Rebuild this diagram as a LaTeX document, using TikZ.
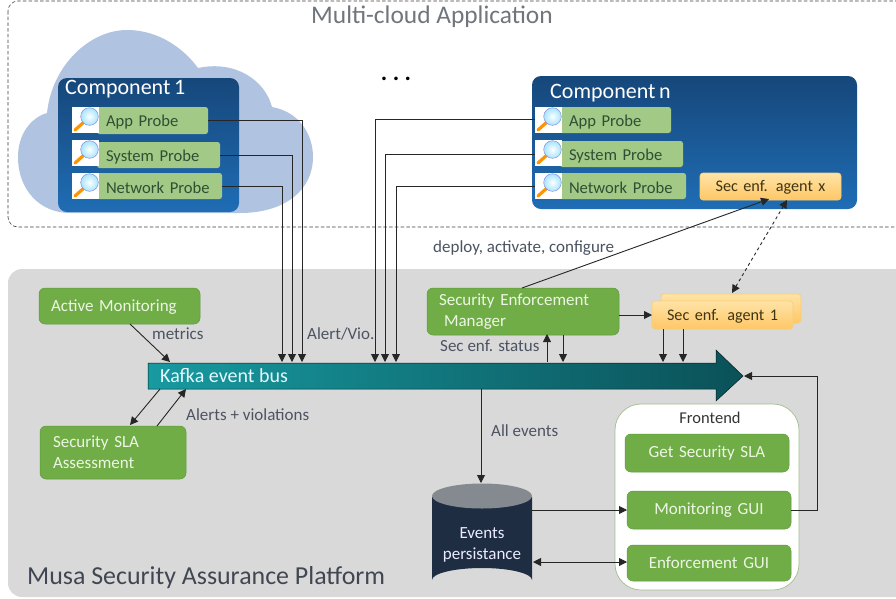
\documentclass[tikz,border=0pt]{standalone}
\usepackage{fontspec}
\setmainfont{Carlito}
\usetikzlibrary{arrows.meta,calc}
\definecolor{cloudc}{HTML}{B0C4E2}
\definecolor{compt}{HTML}{16477A}
\definecolor{compb}{HTML}{1F6DB5}
\definecolor{probeg}{HTML}{A3C986}
\definecolor{probet}{HTML}{2F4F35}
\definecolor{platg}{HTML}{D9D9D9}
\definecolor{boxg}{HTML}{70AD47}
\definecolor{boxline}{HTML}{5F9A3C}
\definecolor{boxtxt}{HTML}{EDF6E4}
\definecolor{agentt}{HTML}{FFE3A6}
\definecolor{agentb}{HTML}{FFC766}
\definecolor{agentl}{HTML}{F4CF78}
\definecolor{agenttx}{HTML}{3F3414}
\definecolor{labelc}{HTML}{4C5361}
\definecolor{titlec}{HTML}{70767C}
\definecolor{dbc}{HTML}{1E2D42}
\definecolor{dbtop}{HTML}{858A90}
\definecolor{busl}{HTML}{179AA0}
\definecolor{busr}{HTML}{0B5158}
\definecolor{frontl}{HTML}{A3BF8D}
\tikzset{
  conn/.style={draw=black!85,line width=0.9pt,-{Triangle[length=8pt,width=8pt]}},
  connb/.style={draw=black!85,line width=0.9pt,{Triangle[length=8pt,width=8pt]}-{Triangle[length=8pt,width=8pt]}},
  comp/.style={rounded corners=9pt,top color=compt,bottom color=compb,draw=none},
  probe/.style={rounded corners=2.5pt,fill=probeg,draw=none,text=probet,font=\fontsize{16.6}{18}\selectfont,align=left},
  greenbox/.style={rounded corners=6pt,fill=boxg,draw=boxline,line width=0.5pt,text=boxtxt,font=\fontsize{17}{21}\selectfont},
  agent/.style={rounded corners=3pt,top color=agentt,bottom color=agentb,draw=agentl,line width=0.6pt,text=agenttx,font=\fontsize{16.2}{18}\selectfont,align=center},
  lab/.style={text=labelc,font=\fontsize{17}{19}\selectfont,inner sep=0pt},
}
% name, x1,y1,x2,y2, style, text
\newcommand\pxbox[7]{%
  \pgfmathsetmacro{\pxw}{#4-#2}\pgfmathsetmacro{\pxh}{#5-#3}%
  \pgfmathsetmacro{\pxcx}{(#2+#4)/2}\pgfmathsetmacro{\pxcy}{(#3+#5)/2}%
  \node[inner sep=0pt,outer sep=0pt,text width=\pxw pt,minimum height=\pxh pt,#6] (#1) at (\pxcx,\pxcy) {#7};}
\newcommand\pxlow[3]{\hspace*{#1}\raisebox{-#2}[\height][\depth]{#3}}
% magnifier icon
\newcommand\pxicon[2]{%
  \fill[white] (#1,#2) rectangle ++(27,26);
  \draw[line width=3.2pt,orange!85!yellow,line cap=round] ($(#1,#2)+(3,23)$) -- ($(#1,#2)+(12,15)$);
  \shade[inner color=white,outer color=blue!30!cyan!35,draw=black!35!blue!45,line width=0.5pt] ($(#1,#2)+(17.5,9.5)$) circle (8.8pt);}
\begin{document}
\begin{tikzpicture}[x=1pt,y=-1pt]
\useasboundingbox (0,0) rectangle (896,598);
\clip (0,0) rectangle (896,598);
\fill[white] (0,0) rectangle (896,598);
% containers
\draw[dash pattern=on 3.5pt off 2.2pt,draw=black!75,line width=0.6pt,rounded corners=10pt] (8,1) rectangle (920,227);
\fill[platg,rounded corners=14pt] (8,269) rectangle (930,597);
\node[text=titlec,font=\fontsize{25.4}{27}\selectfont,inner sep=0pt] (title) at (432,17) {Multi-cloud Application};
\node[font=\bfseries\fontsize{24}{24}\selectfont,inner sep=0pt] (dots) at (396,79) {.\hspace{5.5pt}.\hspace{5.5pt}.};
% cloud
\fill[cloudc] (47,113) .. controls (52,65) and (90,30) .. (127,30)
  .. controls (160,30) and (185,50) .. (198,68)
  .. controls (235,60) and (265,80) .. (272,107)
  .. controls (300,112) and (313,135) .. (313,157)
  .. controls (313,190) and (285,213) .. (240,213)
  -- (70,213)
  .. controls (40,213) and (18,190) .. (18,157)
  .. controls (18,135) and (30,118) .. (47,113) -- cycle;
% components
\pxbox{comp1}{58}{78}{239}{212}{comp}{}
\pxbox{compn}{532}{76}{857}{209}{comp}{}
\node[text=white,font=\fontsize{22}{24}\selectfont,inner sep=0pt,anchor=west] (comp1t) at (65,89) {Component\,1};
\node[text=white,font=\fontsize{22}{24}\selectfont,inner sep=0pt,anchor=west] (compnt) at (550,93) {Component\,n};
% probes
\pxbox{app1}{97}{107}{208}{134}{probe}{\pxlow{9pt}{2pt}{App Probe}}
\pxbox{sys1}{97}{142}{220}{168}{probe}{\pxlow{9pt}{2pt}{System Probe}}
\pxbox{net1}{97}{173}{222}{199}{probe}{\pxlow{9pt}{2pt}{Network Probe}}
\pxicon{72}{107}\pxicon{72}{140}\pxicon{72}{173}
\pxbox{appn}{560}{107}{671}{133}{probe}{\pxlow{9pt}{2pt}{App Probe}}
\pxbox{sysn}{560}{141}{683}{167}{probe}{\pxlow{9pt}{2pt}{System Probe}}
\pxbox{netn}{560}{173}{686}{199}{probe}{\pxlow{9pt}{2pt}{Network Probe}}
\pxicon{535}{107}\pxicon{535}{140}\pxicon{535}{173}
\pxbox{agentx}{700}{173}{841}{200}{agent}{\pxlow{0pt}{1pt}{Sec enf. agent x}}
% bus
\path[left color=busl,right color=busr,draw=black!60!busr,line width=0.5pt]
  (148,363) -- (716,363) -- (716,350) -- (743,376) -- (716,401) -- (716,389) -- (148,389) -- cycle;
\node[text=white!90!cyan,font=\fontsize{20}{22}\selectfont,inner sep=0pt,anchor=west] (bus) at (160,376) {Kafka event bus};
% green boxes
\pxbox{active}{39}{288}{200}{324}{greenbox,align=left}{\pxlow{12pt}{1pt}{Active Monitoring}}
\pxbox{sla}{40}{426}{186}{479}{greenbox,align=left}{\hspace*{13pt}Security SLA\\\hspace*{13pt}Assessment}
\pxbox{sem}{427}{288}{619}{335}{greenbox,align=left}{\hspace*{12pt}Security Enforcement\\\hspace*{17pt}Manager}
% agent 1
\pxbox{agentb}{661}{294}{801}{323}{agent}{}
\pxbox{agenta}{652}{301}{793}{329}{agent}{\pxlow{0pt}{1pt}{Sec enf. agent 1}}
% database
\path[fill=dbc] (432,497) -- (432,580) arc[start angle=180,end angle=360,x radius=50,y radius=12] -- (532,497) -- cycle;
\fill[dbtop] (482,496) ellipse (50 and 12.5);
\node[text=white!92!blue,font=\fontsize{17}{21}\selectfont,align=center,inner sep=0pt] (db) at (482,545) {Events\\persistance};
\coordinate (dbtopc) at (481,483);
\coordinate (dbr1) at (532,510);
\coordinate (dbr2) at (533,562);
% frontend
\pxbox{front}{615}{404}{799}{590}{rounded corners=26pt,fill=white,draw=frontl,line width=0.7pt}{}
\node[text=black!80,font=\fontsize{16.5}{18}\selectfont,inner sep=0pt] (frontt) at (710,418) {Frontend};
\pxbox{getsla}{625}{434}{789}{472}{greenbox,align=center}{Get Security SLA}
\pxbox{mongui}{627}{491}{791}{529}{greenbox,align=center}{Monitoring GUI}
\pxbox{enfgui}{627}{545}{791}{581}{greenbox,align=center}{Enforcement GUI}
% coordinates on bus
\foreach \n/\x in {a/282,b/292,c/302,d/375,e/385,f/396,g/563,h/663,i/683}{\coordinate (bus\n) at (\x,362);}
\coordinate (bustip) at (744,376);
\coordinate (busm) at (170,362);
\coordinate (bussla) at (160,389);
\coordinate (busal) at (186,389);
\coordinate (busst) at (547,362);
\coordinate (busall) at (481,389);
\coordinate (turn) at (817,510);
% connectors
\draw[conn] (app1.east) -| (busc);
\draw[conn] (sys1.east) -| (busb);
\draw[conn] (net1.east) -| (busa);
\draw[conn] (535,119) -| (busd);
\draw[conn] (535,154) -| (buse);
\draw[conn] (535,186) -| (busf);
\draw[conn] (130,324) -- (busm);
\draw[conn] (bussla) -- (130,425);
\draw[conn] (157,426) -- (busal);
\draw[conn] (522,288) -- (769,199);
\draw[connb,dashed] (732,293) -- (787,200);
\draw[conn] (sem.east|-agenta.west) -- (agenta.west);
\draw[conn] (busst) -- (547,334);
\draw[conn] (563,335) -- (busg);
\draw[conn] (663,329) -- (bush);
\draw[conn] (683,329) -- (busi);
\draw[conn] (busall) -- (dbtopc);
\draw[conn] (dbr1) -- (mongui.west|-dbr1);
\draw[connb] (dbr2) -- (enfgui.west|-dbr2);
\draw[conn] (mongui.east) -- (turn) |- (bustip);
% labels
\node[lab,anchor=west] (lmet) at (152,334) {metrics};
\node[lab,anchor=west] (lal) at (186,415) {Alerts + violations};
\node[lab,anchor=west] (lvio) at (307,334) {Alert/Vio.};
\node[lab,anchor=west] (ldep) at (433,248) {deploy, activate, configure};
\node[lab,anchor=west] (lst) at (440,346) {Sec enf. status};
\node[lab,anchor=west] (lall) at (491,431) {All events};
\node[text=labelc!85!black,font=\fontsize{25.9}{28}\selectfont,inner sep=0pt,anchor=west] (plat) at (27,578) {Musa Security Assurance Platform};
\end{tikzpicture}
\end{document}
